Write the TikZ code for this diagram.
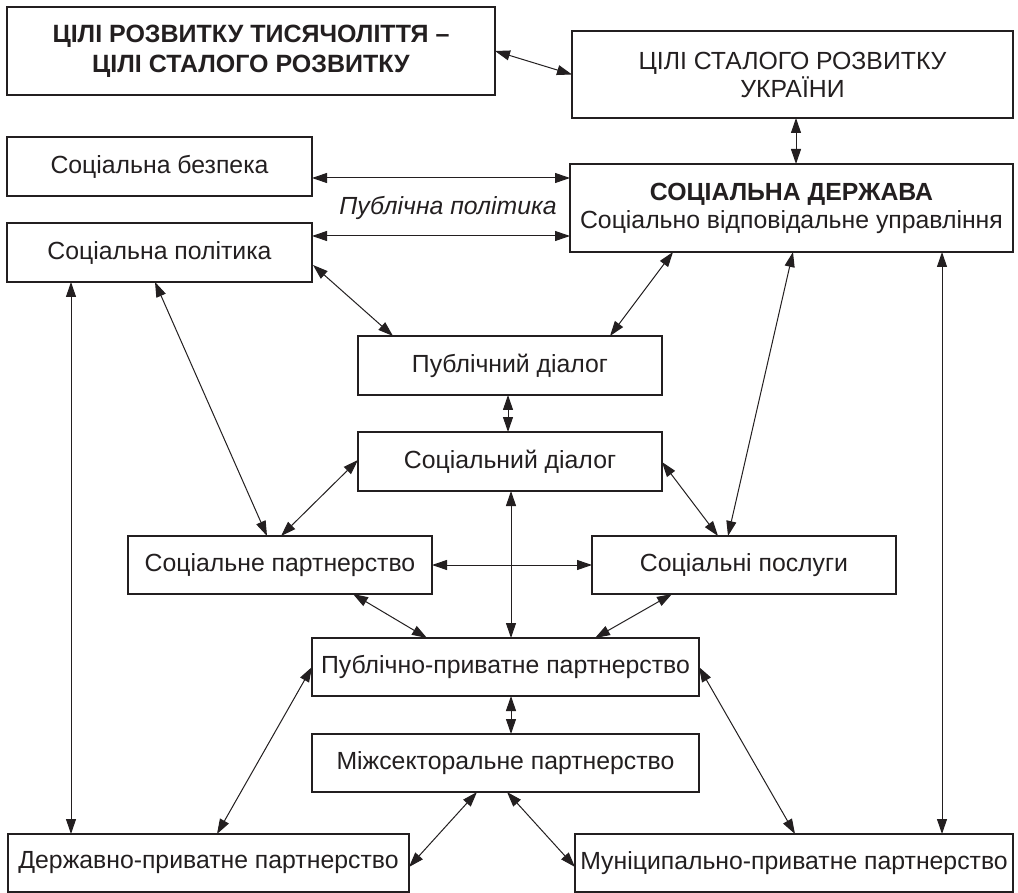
\documentclass[tikz,border=0pt]{standalone}
\usepackage{fontspec}
\setmainfont{Liberation Sans}
\usetikzlibrary{arrows.meta,calc}
\definecolor{ink}{HTML}{231F20}
\begin{document}
\begin{tikzpicture}[x=1pt,y=-1pt,
  box/.style={draw=ink, text=ink, line width=1.2pt, inner sep=0pt, outer sep=0pt, align=center,
              font=\fontsize{24.8}{28}\selectfont},
  link/.style={draw=ink, line width=1pt,
               {Triangle[length=15pt,width=10pt]}-{Triangle[length=15pt,width=10pt]}}]
\useasboundingbox[fill=white] (0,0) rectangle (1018,893);

\node[box, minimum width=488pt, minimum height=88pt, font=\fontsize{25}{30}\selectfont\bfseries] (goals) at (251,51)
  {ЦІЛІ РОЗВИТКУ ТИСЯЧОЛІТТЯ –\\ЦІЛІ СТАЛОГО РОЗВИТКУ};
\node[box, minimum width=441pt, minimum height=87pt] (ua) at (792.5,74.5)
  {ЦІЛІ СТАЛОГО РОЗВИТКУ\\УКРАЇНИ};
\node[box, minimum width=305pt, minimum height=59pt] (bez) at (159.5,166.5) {Соціальна безпека};
\node[box, minimum width=305pt, minimum height=59pt] (pol) at (159.5,252.5) {Соціальна політика};
\node[box, minimum width=443pt, minimum height=88pt] (state) at (791.5,208)
  {{\bfseries СОЦІАЛЬНА ДЕРЖАВА}\\Соціально відповідальне управління};
\node[text=ink, font=\fontsize{24.8}{28}\selectfont\itshape] (pp) at (448,208) {Публічна політика};
\node[box, minimum width=304pt, minimum height=59pt] (pd) at (510,365.5) {Публічний діалог};
\node[box, minimum width=304pt, minimum height=59pt] (sd) at (510,461.5) {Соціальний діалог};
\node[box, minimum width=304pt, minimum height=58pt] (sp) at (280,565) {Соціальне партнерство};
\node[box, minimum width=304pt, minimum height=58pt] (ss) at (744,565) {Соціальні послуги};
\node[box, minimum width=387pt, minimum height=58pt] (ppp) at (505.5,667) {Публічно-приватне партнерство};
\node[box, minimum width=387pt, minimum height=58pt] (msp) at (505.5,763) {Міжсекторальне партнерство};
\node[box, minimum width=401pt, minimum height=58pt] (dpp) at (208.5,863) {Державно-приватне партнерство};
\node[box, minimum width=438pt, minimum height=58pt] (mpp) at (794,863) {Муніципально-приватне партнерство};

\draw[link] (goals.east) -- (ua.west);
\draw[link] ($(ua.south)+(3.5,0)$) -- ($(state.north)+(4.5,0)$);
\draw[link] ($(bez.east)+(0,11.5)$) -- ($(state.west)+(0,-30)$);
\draw[link] ($(pol.east)+(0,-16.5)$) -- ($(state.west)+(0,28)$);
\draw[link] ($(pol.east)+(1,12.5)$) -- ($(pd.north west)+(35,0)$);
\draw[link] ($(pol.south)+(-4.5,0)$) -- ($(sp.north)+(-13,0)$);
\draw[link] ($(pol.south west)+(64,0)$) -- ($(dpp.north west)+(63,0)$);
\draw[link] ($(state.south west)+(103,0)$) -- ($(pd.north east)+(-52,0)$);
\draw[link] ($(state.south west)+(223,0)$) -- ($(ss.north west)+(136,0)$);
\draw[link] ($(state.south east)+(-71,0)$) -- ($(mpp.north east)+(-71,0)$);
\draw[link] ($(pd.south)+(-2,0)$) -- ($(sd.north)+(-2,0)$);
\draw[link] ($(sd.west)+(0,-1.5)$) -- ($(sp.north)+(1,0)$);
\draw[link] ($(sd.east)+(0,0.5)$) -- ($(ss.north west)+(126,0)$);
\draw[link] ($(sd.south)+(1,0)$) -- ($(ppp.north)+(5.5,0)$);
\draw[link] (sp.east) -- (ss.west);
\draw[link] ($(sp.south east)+(-79,0)$) -- ($(ppp.north west)+(115,0)$);
\draw[link] ($(ss.south west)+(80,0)$) -- ($(ppp.north west)+(283,0)$);
\draw[link] ($(ppp.south)+(5.5,0)$) -- ($(msp.north)+(5.5,0)$);
\draw[link] (ppp.west) -- ($(dpp.north west)+(209,0)$);
\draw[link] (ppp.east) -- ($(mpp.north west)+(220,0)$);
\draw[link] ($(msp.south west)+(165,0)$) -- ($(dpp.east)+(0,4)$);
\draw[link] ($(msp.south west)+(195,0)$) -- ($(mpp.west)+(0,4)$);
\end{tikzpicture}
\end{document}
